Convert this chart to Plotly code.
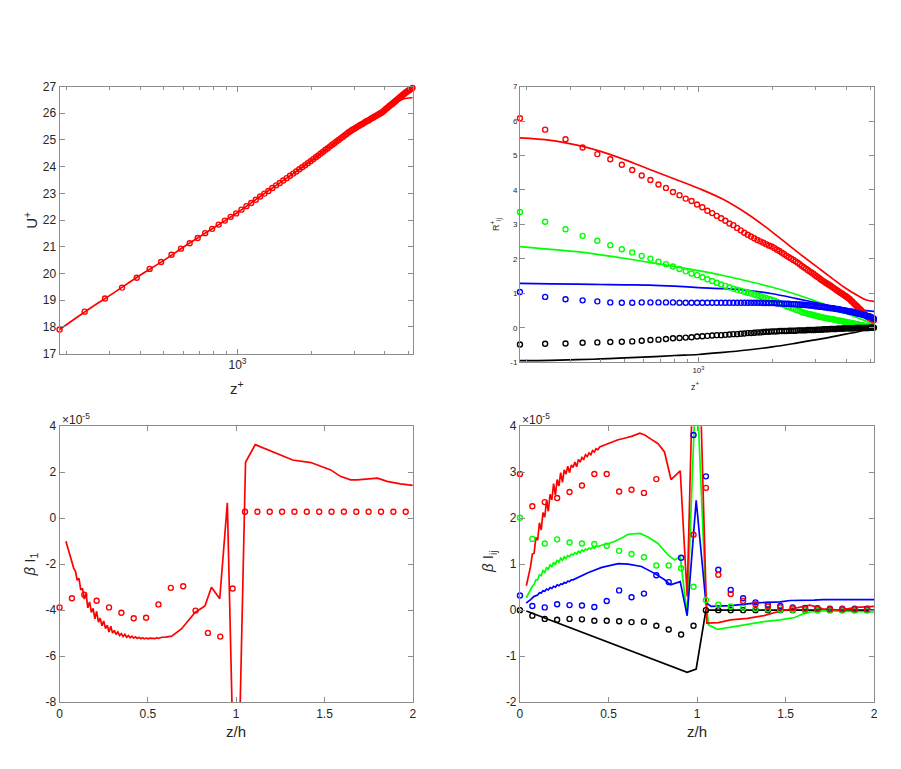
import plotly.graph_objects as go

W, H = 901, 769

# ---------------- data ----------------
# top panels: wall-normal positions (z+) of the symbols
zplus_markers = [
    187.5, 237.5, 287.5, 337.5, 387.5, 437.5, 487.5, 537.5, 587.5, 637.5,
    687.5, 737.5, 787.5, 837.5, 887.5, 937.5, 987.5, 1037.5, 1087.5, 1137.5,
    1187.5, 1237.5, 1287.5, 1337.5, 1387.5, 1437.5, 1487.5, 1537.5, 1587.5, 1637.5,
    1687.5, 1737.5, 1787.5, 1837.5, 1887.5, 1937.5, 1987.5, 2037.5, 2087.5, 2137.5,
    2187.5, 2237.5, 2287.5, 2337.5, 2387.5, 2437.5, 2487.5, 2537.5, 2587.5, 2637.5,
    2687.5, 2737.5, 2787.5, 2837.5, 2887.5, 2937.5, 2987.5, 3037.5, 3087.5, 3137.5,
    3187.5, 3237.5, 3287.5, 3337.5, 3387.5, 3437.5, 3487.5, 3537.5, 3587.5, 3637.5,
    3687.5, 3737.5, 3787.5, 3837.5, 3887.5, 3937.5, 3987.5, 4037.5, 4087.5, 4137.5,
    4187.5, 4237.5, 4287.5, 4337.5, 4387.5, 4437.5, 4487.5, 4537.5, 4587.5, 4637.5,
    4687.5, 4737.5, 4787.5, 4837.5, 4887.5, 4937.5, 4987.5, 5037.5, 5087.5, 5137.5,
    5187.5]

U_markers = [
    17.90, 18.57, 19.06, 19.47, 19.84, 20.17, 20.43, 20.70, 20.93, 21.13,
    21.33, 21.51, 21.67, 21.83, 21.98, 22.12, 22.25, 22.39, 22.52, 22.64,
    22.76, 22.88, 22.99, 23.09, 23.20, 23.30, 23.39, 23.48, 23.57, 23.66,
    23.74, 23.82, 23.90, 23.98, 24.05, 24.13, 24.20, 24.28, 24.35, 24.42,
    24.49, 24.56, 24.63, 24.69, 24.76, 24.82, 24.88, 24.94, 25.00, 25.06,
    25.11, 25.17, 25.22, 25.28, 25.33, 25.37, 25.41, 25.45, 25.49, 25.53,
    25.57, 25.60, 25.64, 25.68, 25.71, 25.74, 25.78, 25.81, 25.84, 25.88,
    25.91, 25.94, 25.97, 26.00, 26.03, 26.07, 26.11, 26.16, 26.20, 26.24,
    26.28, 26.32, 26.35, 26.39, 26.43, 26.47, 26.51, 26.54, 26.58, 26.62,
    26.65, 26.69, 26.72, 26.76, 26.79, 26.82, 26.84, 26.87, 26.90, 26.92,
    26.95]

zplus_Uline = [187.5, 250, 300, 400, 500, 600, 800, 1000, 1300, 1600,
               2000, 2400, 2900, 3500, 4000, 4300, 4500, 4700, 4900, 5190]
U_line = [17.90, 18.70, 19.17, 19.93, 20.49, 20.98, 21.71, 22.28, 23.02, 23.59,
          24.22, 24.77, 25.34, 25.79, 26.11, 26.33, 26.44, 26.52, 26.56, 26.58]

R11_markers = [
    6.08, 5.75, 5.47, 5.23, 5.04, 4.89, 4.73, 4.58, 4.42, 4.29,
    4.16, 4.06, 3.94, 3.85, 3.75, 3.68, 3.58, 3.50, 3.40, 3.33,
    3.25, 3.18, 3.11, 3.03, 2.98, 2.90, 2.83, 2.76, 2.70, 2.65,
    2.60, 2.55, 2.51, 2.47, 2.43, 2.39, 2.36, 2.32, 2.27, 2.23,
    2.18, 2.14, 2.09, 2.05, 2.01, 1.97, 1.93, 1.89, 1.85, 1.80,
    1.76, 1.72, 1.68, 1.64, 1.61, 1.57, 1.53, 1.49, 1.46, 1.42,
    1.38, 1.35, 1.32, 1.29, 1.26, 1.23, 1.20, 1.17, 1.14, 1.11,
    1.08, 1.05, 1.02, 1.00, 0.97, 0.94, 0.92, 0.89, 0.86, 0.83,
    0.79, 0.76, 0.72, 0.69, 0.65, 0.62, 0.58, 0.55, 0.52, 0.48,
    0.45, 0.42, 0.39, 0.35, 0.32, 0.30, 0.29, 0.27, 0.25, 0.24,
    0.22]
R22_markers = [
    3.36, 3.08, 2.86, 2.67, 2.53, 2.40, 2.28, 2.19, 2.09, 2.01,
    1.92, 1.85, 1.78, 1.71, 1.64, 1.58, 1.53, 1.47, 1.41, 1.36,
    1.31, 1.26, 1.22, 1.18, 1.14, 1.11, 1.08, 1.05, 1.02, 1.00,
    0.97, 0.94, 0.92, 0.89, 0.87, 0.84, 0.82, 0.79, 0.76, 0.72,
    0.69, 0.66, 0.63, 0.61, 0.58, 0.56, 0.53, 0.51, 0.49, 0.46,
    0.44, 0.43, 0.41, 0.40, 0.39, 0.37, 0.36, 0.35, 0.33, 0.32,
    0.31, 0.30, 0.29, 0.28, 0.27, 0.26, 0.26, 0.25, 0.24, 0.23,
    0.22, 0.21, 0.21, 0.20, 0.19, 0.18, 0.17, 0.16, 0.16, 0.15,
    0.14, 0.13, 0.13, 0.12, 0.11, 0.11, 0.10, 0.09, 0.08, 0.08,
    0.07, 0.06, 0.06, 0.05, 0.04, 0.04, 0.03, 0.02, 0.01, 0.01,
    0.00]
R33_markers = [
    1.04, 0.90, 0.83, 0.80, 0.77, 0.74, 0.73, 0.73, 0.74, 0.74,
    0.74, 0.74, 0.74, 0.73, 0.73, 0.73, 0.73, 0.73, 0.73, 0.73,
    0.73, 0.73, 0.73, 0.73, 0.73, 0.73, 0.73, 0.73, 0.73, 0.73,
    0.73, 0.73, 0.73, 0.72, 0.72, 0.72, 0.72, 0.72, 0.71, 0.71,
    0.71, 0.70, 0.70, 0.70, 0.69, 0.69, 0.69, 0.68, 0.68, 0.67,
    0.67, 0.66, 0.66, 0.65, 0.65, 0.64, 0.63, 0.63, 0.62, 0.61,
    0.61, 0.60, 0.60, 0.59, 0.58, 0.58, 0.57, 0.57, 0.56, 0.55,
    0.55, 0.54, 0.53, 0.52, 0.51, 0.51, 0.50, 0.49, 0.48, 0.47,
    0.47, 0.46, 0.45, 0.44, 0.43, 0.42, 0.41, 0.41, 0.40, 0.39,
    0.38, 0.37, 0.36, 0.35, 0.34, 0.34, 0.33, 0.32, 0.30, 0.29,
    0.27]
R13_markers = [
    -0.48, -0.46, -0.45, -0.43, -0.42, -0.41, -0.40, -0.39, -0.37, -0.35,
    -0.34, -0.32, -0.30, -0.29, -0.28, -0.27, -0.25, -0.24, -0.23, -0.22,
    -0.21, -0.21, -0.20, -0.19, -0.18, -0.18, -0.17, -0.16, -0.15, -0.15,
    -0.14, -0.13, -0.13, -0.12, -0.11, -0.11, -0.10, -0.10, -0.10, -0.09,
    -0.09, -0.09, -0.09, -0.08, -0.08, -0.08, -0.08, -0.07, -0.07, -0.07,
    -0.07, -0.07, -0.06, -0.06, -0.06, -0.06, -0.06, -0.05, -0.05, -0.05,
    -0.05, -0.04, -0.04, -0.04, -0.04, -0.03, -0.03, -0.03, -0.03, -0.03,
    -0.02, -0.02, -0.02, -0.02, -0.02, -0.01, -0.01, -0.01, -0.01, -0.01,
    -0.01, -0.01, -0.01, 0.00, 0.00, 0.00, 0.00, 0.00, 0.00, 0.00,
    0.00, 0.00, 0.00, 0.00, 0.00, 0.00, 0.01, 0.01, 0.01, 0.01,
    0.01]

zplus_Rline = [187.5, 250, 320, 400, 500, 630, 800, 1000, 1260, 1580,
               2000, 2510, 3160, 3980, 4470, 4830, 5190]
R11_line = [5.51, 5.44, 5.30, 5.12, 4.88, 4.60, 4.32, 4.05, 3.73, 3.31,
            2.78, 2.22, 1.68, 1.15, 0.93, 0.81, 0.77]
R22_line = [2.36, 2.28, 2.21, 2.12, 2.02, 1.90, 1.78, 1.66, 1.52, 1.36,
            1.18, 0.97, 0.72, 0.43, 0.29, 0.19, 0.11]
R33_line = [1.29, 1.28, 1.27, 1.26, 1.25, 1.24, 1.21, 1.17, 1.14, 1.09,
            0.99, 0.85, 0.70, 0.56, 0.52, 0.50, 0.48]
R13_line = [-0.95, -0.94, -0.92, -0.90, -0.87, -0.84, -0.80, -0.77, -0.71, -0.64,
            -0.55, -0.44, -0.32, -0.18, -0.11, -0.05, 0.00]

# bottom panels (values in units of 1e-5)
zh_markers = [0, 0.07, 0.14, 0.21, 0.28, 0.35, 0.42, 0.49, 0.56, 0.63,
              0.70, 0.77, 0.84, 0.91, 0.98, 1.05, 1.12, 1.19, 1.26, 1.33,
              1.40, 1.47, 1.54, 1.61, 1.68, 1.75, 1.82, 1.89, 1.96]

I1_markers = [-3.88, -3.48, -3.33, -3.59, -3.88, -4.11, -4.35, -4.33, -3.75, -3.03,
              -2.96, -4.02, -4.99, -5.15, -3.06, 0.28, 0.28, 0.28, 0.28, 0.28,
              0.28, 0.28, 0.28, 0.28, 0.28, 0.28, 0.28, 0.28, 0.28]

zh_I1_line = [0.036, 0.04, 0.05, 0.06, 0.07, 0.08, 0.09, 0.10, 0.11, 0.12,
              0.13, 0.14, 0.15, 0.16, 0.17, 0.18, 0.19, 0.20, 0.21, 0.22,
              0.23, 0.24, 0.25, 0.26, 0.27, 0.28, 0.29, 0.30, 0.31, 0.32,
              0.33, 0.34, 0.35, 0.36, 0.37, 0.38, 0.39, 0.40, 0.41, 0.42,
              0.43, 0.44, 0.45, 0.46, 0.47, 0.48, 0.49, 0.50, 0.51, 0.52,
              0.53, 0.54, 0.55, 0.56, 0.58, 0.60, 0.635, 0.69, 0.767, 0.823,
              0.86, 0.907, 0.95, 1.0, 1.053, 1.108, 1.198, 1.32, 1.423, 1.48,
              1.535, 1.59, 1.648, 1.685, 1.74, 1.80, 1.854, 1.93, 2.0]
I1_line = [-1.00, -1.10, -1.32, -1.66, -1.84, -2.17, -2.31, -2.70, -2.62, -3.12,
           -3.05, -3.52, -3.28, -3.90, -3.64, -4.10, -3.92, -4.38, -4.05, -4.52,
           -4.35, -4.68, -4.47, -4.80, -4.65, -4.95, -4.70, -5.00, -4.88, -5.06,
           -4.95, -5.10, -5.02, -5.15, -5.05, -5.18, -5.10, -5.20, -5.13, -5.22,
           -5.16, -5.23, -5.18, -5.24, -5.20, -5.25, -5.21, -5.25, -5.22, -5.24,
           -5.23, -5.24, -5.20, -5.23, -5.18, -5.17, -5.13, -4.82, -4.10, -3.82,
           -3.00, -3.50, 0.67, -16.0, 2.43, 3.20, 2.91, 2.53, 2.42, 2.25,
           2.10, 1.82, 1.67, 1.67, 1.70, 1.74, 1.60, 1.49, 1.43]

I11_markers = [2.96, 2.26, 2.35, 2.44, 2.57, 2.71, 2.96, 2.96, 2.58, 2.62,
               2.55, 2.85, None, None, 1.64, 2.66, 0.77, 0.35, 0.20, 0.13,
               0.08, 0.06, 0.04, 0.03, 0.03, 0.02, 0.02, 0.02, 0.02]
I22_markers = [2.01, 1.55, 1.45, 1.54, 1.47, 1.45, 1.44, 1.40, 1.29, 1.22,
               1.15, 0.97, 0.97, 0.91, 0.51, 0.22, 0.12, 0.08, 0.05, 0.03,
               0.02, 0.01, 0.01, 0.00, 0.00, 0.00, 0.00, 0.00, 0.00]
I33_markers = [0.32, 0.09, 0.06, 0.13, 0.11, 0.10, 0.07, 0.20, 0.43, 0.28,
               0.36, 0.76, 0.61, 1.14, 3.81, 2.91, 0.88, 0.44, 0.26, 0.17,
               0.12, 0.09, 0.06, 0.05, 0.04, 0.03, 0.03, 0.03, 0.03]
I13_markers = [0.00, -0.12, -0.19, -0.21, -0.19, -0.20, -0.23, -0.23, -0.24, -0.26,
               -0.25, -0.34, -0.42, -0.53, -0.34, 0.00, 0.00, 0.00, 0.00, 0.00,
               0.00, 0.00, 0.00, 0.00, 0.00, 0.00, 0.00, 0.00, 0.00]

zh_I11_line = [0.036, 0.04, 0.05, 0.06, 0.07, 0.08, 0.09, 0.10, 0.11, 0.12,
               0.13, 0.14, 0.15, 0.16, 0.17, 0.18, 0.19, 0.20, 0.21, 0.22,
               0.23, 0.24, 0.25, 0.26, 0.27, 0.28, 0.29, 0.30, 0.31, 0.32,
               0.33, 0.34, 0.35, 0.36, 0.37, 0.38, 0.39, 0.40, 0.41, 0.42,
               0.43, 0.44, 0.45, 0.50, 0.55, 0.60, 0.63, 0.677, 0.705, 0.74,
               0.78, 0.816, 0.853, 0.905, 0.944, 0.995, 1.055, 1.12, 1.19, 1.284,
               1.378, 1.45, 1.563, 1.637, 1.71, 1.806, 1.90, 2.0]
I11_line = [0.53, 0.60, 0.84, 0.95, 1.22, 1.24, 1.58, 1.52, 1.90, 1.74,
            2.12, 2.02, 2.38, 2.15, 2.52, 2.40, 2.75, 2.50, 2.84, 2.70,
            2.99, 2.78, 3.05, 2.96, 3.13, 2.99, 3.16, 3.10, 3.22, 3.12,
            3.28, 3.22, 3.32, 3.28, 3.38, 3.34, 3.42, 3.38, 3.47, 3.44,
            3.51, 3.49, 3.55, 3.63, 3.70, 3.75, 3.78, 3.85, 3.81, 3.72,
            3.62, 3.44, 2.84, 3.03, 0.30, 8.00, -0.28, -0.27, -0.21, -0.18,
            -0.12, -0.04, 0.06, 0.11, 0.03, 0.00, 0.06, 0.08]

zh_I22_line = [0.036, 0.04, 0.05, 0.06, 0.07, 0.08, 0.09, 0.10, 0.11, 0.12,
               0.13, 0.14, 0.15, 0.16, 0.17, 0.18, 0.19, 0.20, 0.21, 0.22,
               0.23, 0.24, 0.25, 0.26, 0.27, 0.28, 0.29, 0.30, 0.31, 0.32,
               0.33, 0.34, 0.35, 0.36, 0.37, 0.38, 0.39, 0.40, 0.41, 0.42,
               0.43, 0.44, 0.45, 0.50, 0.536, 0.58, 0.611, 0.677, 0.723, 0.779,
               0.836, 0.873, 0.905, 0.944, 0.995, 1.05, 1.065, 1.116, 1.19, 1.284,
               1.378, 1.47, 1.55, 1.60, 1.637, 1.71, 1.85, 2.0]
I22_line = [0.27, 0.30, 0.38, 0.44, 0.52, 0.56, 0.66, 0.66, 0.77, 0.75,
            0.86, 0.82, 0.93, 0.88, 0.99, 0.94, 1.04, 0.99, 1.09, 1.04,
            1.13, 1.08, 1.16, 1.12, 1.19, 1.16, 1.22, 1.20, 1.25, 1.22,
            1.28, 1.25, 1.31, 1.28, 1.33, 1.31, 1.35, 1.33, 1.37, 1.35,
            1.39, 1.38, 1.40, 1.45, 1.50, 1.58, 1.65, 1.67, 1.59, 1.45,
            1.20, 1.09, 1.16, -0.12, 5.20, 0.20, -0.32, -0.42, -0.37, -0.30,
            -0.25, -0.21, -0.16, -0.08, -0.04, -0.01, -0.03, -0.04]

zh_I33_line = [0.036, 0.04, 0.06, 0.08, 0.10, 0.11, 0.12, 0.13, 0.14, 0.15,
               0.16, 0.17, 0.18, 0.19, 0.20, 0.21, 0.22, 0.23, 0.24, 0.25,
               0.26, 0.27, 0.28, 0.29, 0.30, 0.32, 0.35, 0.387, 0.462, 0.555,
               0.611, 0.686, 0.76, 0.817, 0.85, 0.905, 0.944, 0.995, 1.05, 1.08,
               1.19, 1.284, 1.339, 1.47, 1.526, 1.66, 1.71, 2.0]
I33_line = [0.15, 0.17, 0.23, 0.30, 0.33, 0.38, 0.37, 0.42, 0.41, 0.46,
            0.44, 0.49, 0.47, 0.52, 0.50, 0.55, 0.53, 0.57, 0.56, 0.60,
            0.59, 0.63, 0.62, 0.66, 0.66, 0.70, 0.75, 0.82, 0.93, 1.01,
            1.00, 0.95, 0.80, 0.66, 0.55, 0.62, -0.12, 2.39, 0.16, 0.08,
            0.10, 0.13, 0.16, 0.18, 0.21, 0.22, 0.23, 0.23]

zh_I13_line = [0.036, 0.944, 0.995, 1.05, 1.20, 2.0]
I13_line = [-0.02, -1.35, -1.28, 0.00, 0.00, 0.00]

# tick labels (hyphen minus, as in the original)
yt_U = [17, 18, 19, 20, 21, 22, 23, 24, 25, 26, 27]
yt_R = [-1, 0, 1, 2, 3, 4, 5, 6, 7]
yt_I1 = [-8, -6, -4, -2, 0, 2, 4]
yt_Iij = [-2, -1, 0, 1, 2, 3, 4]
xt_zh = [0, 0.5, 1, 1.5, 2]
xt_zh_text = ["0", "0.5", "1", "1.5", "2"]

# ---------------- styling helpers ----------------
RED, GREEN, BLUE, BLACK = "#ff0000", "#00ff00", "#0000ff", "#000000"
FONT = "Liberation Sans, Arial, Helvetica, sans-serif"
AXC = "#8c8c8c"
TXT = "#262626"


def px(x):
    return x / W


def py(y):
    return 1 - y / H


fig = go.Figure()


def markers(x, y, color, xa, ya):
    fig.add_trace(go.Scatter(
        x=x, y=y, mode="markers", xaxis=xa, yaxis=ya, showlegend=False,
        cliponaxis=False,
        marker=dict(symbol="circle-open", size=5, color=color,
                    line=dict(width=1.4, color=color))))


def line(x, y, color, xa, ya, shape="linear"):
    fig.add_trace(go.Scatter(
        x=x, y=y, mode="lines", xaxis=xa, yaxis=ya, showlegend=False,
        line=dict(color=color, width=1.7, shape=shape)))


# top-left
line(zplus_Uline, U_line, RED, "x", "y", "spline")
markers(zplus_markers, U_markers, RED, "x", "y")

# top-right
line(zplus_Rline, R11_line, RED, "x2", "y2", "spline")
line(zplus_Rline, R22_line, GREEN, "x2", "y2", "spline")
line(zplus_Rline, R33_line, BLUE, "x2", "y2", "spline")
line(zplus_Rline, R13_line, BLACK, "x2", "y2", "spline")
markers(zplus_markers, R11_markers, RED, "x2", "y2")
markers(zplus_markers, R22_markers, GREEN, "x2", "y2")
markers(zplus_markers, R33_markers, BLUE, "x2", "y2")
markers(zplus_markers, R13_markers, BLACK, "x2", "y2")

# bottom-left
line(zh_I1_line, I1_line, RED, "x3", "y3")
markers(zh_markers, I1_markers, RED, "x3", "y3")

# bottom-right
line(zh_I13_line, I13_line, BLACK, "x4", "y4")
line(zh_I22_line, I22_line, GREEN, "x4", "y4")
line(zh_I33_line, I33_line, BLUE, "x4", "y4")
line(zh_I11_line, I11_line, RED, "x4", "y4")
markers(zh_markers, I13_markers, BLACK, "x4", "y4")
markers(zh_markers, I22_markers, GREEN, "x4", "y4")
markers(zh_markers, I33_markers, BLUE, "x4", "y4")
markers(zh_markers, I11_markers, RED, "x4", "y4")

minor_log = [200, 300, 400, 500, 600, 700, 800, 900, 2000, 3000, 4000, 5000]


def axis(domain, anchor, size, **kw):
    d = dict(domain=domain, anchor=anchor, showline=True, linecolor=AXC,
             linewidth=1, mirror="ticks", ticks="inside", ticklen=5,
             tickcolor=AXC, tickwidth=1, showgrid=False, zeroline=False,
             tickfont=dict(family=FONT, size=size, color=TXT))
    d.update(kw)
    return d


def labels(vals):
    return [str(v) for v in vals]


xl = [px(57), px(413)]
xr = [px(521), px(878)]
logrange = [2.273, 3.716]

fig.update_layout(
    width=W, height=H, margin=dict(l=0, r=0, t=0, b=0),
    paper_bgcolor="white", plot_bgcolor="white",
    xaxis=axis(xl, "y", 12, type="log", range=logrange,
               tickvals=[1000], ticktext=["10<sup>3</sup>"],
               minor=dict(tickvals=minor_log, ticks="inside", ticklen=3,
                          tickcolor=AXC)),
    yaxis=axis([py(353), py(81)], "x", 12, range=[17, 27],
               tickvals=yt_U, ticktext=labels(yt_U)),
    xaxis2=axis(xr, "y2", 8, type="log", range=logrange,
                tickvals=[1000], ticktext=["10<sup>3</sup>"],
                minor=dict(tickvals=minor_log, ticks="inside", ticklen=3,
                           tickcolor=AXC)),
    yaxis2=axis([py(362), py(81)], "x2", 8, range=[-1, 7],
                tickvals=yt_R, ticktext=labels(yt_R)),
    xaxis3=axis(xl, "y3", 12, range=[0, 2], tickvals=xt_zh,
                ticktext=xt_zh_text),
    yaxis3=axis([py(708), py(427)], "x3", 12, range=[-8, 4],
                tickvals=yt_I1, ticktext=labels(yt_I1)),
    xaxis4=axis(xr, "y4", 12, range=[0, 2], tickvals=xt_zh,
                ticktext=xt_zh_text),
    yaxis4=axis([py(708), py(427)], "x4", 12, range=[-2, 4],
                tickvals=yt_Iij, ticktext=labels(yt_Iij)),
)


def note(text, x, y, size, angle=0, xanchor="center", yanchor="middle"):
    fig.add_annotation(text=text, x=px(x), y=py(y), xref="paper", yref="paper",
                       showarrow=False, textangle=angle, xanchor=xanchor,
                       yanchor=yanchor,
                       font=dict(family=FONT, size=size, color=TXT))


# axis titles
note("U<sup>+</sup>", 27, 217, 15, angle=-90)
note("z<sup>+</sup>", 236, 388, 15)
note("R<sup>+</sup><sub>ij</sub>", 497, 222, 9, angle=-90)
note("z<sup>+</sup>", 698, 386, 9)
note("<i>β</i> I<sub>1</sub>", 28, 568, 15, angle=-90)
note("z/h", 235, 738, 15)
note("<i>β</i> I<sub>ij</sub>", 490, 565, 15, angle=-90)
note("z/h", 699, 738, 15)
# exponent labels
note("×10<sup>-5</sup>", 57, 420, 12, xanchor="left")
note("×10<sup>-5</sup>", 521, 420, 12, xanchor="left")

fig.write_html("out.html")
